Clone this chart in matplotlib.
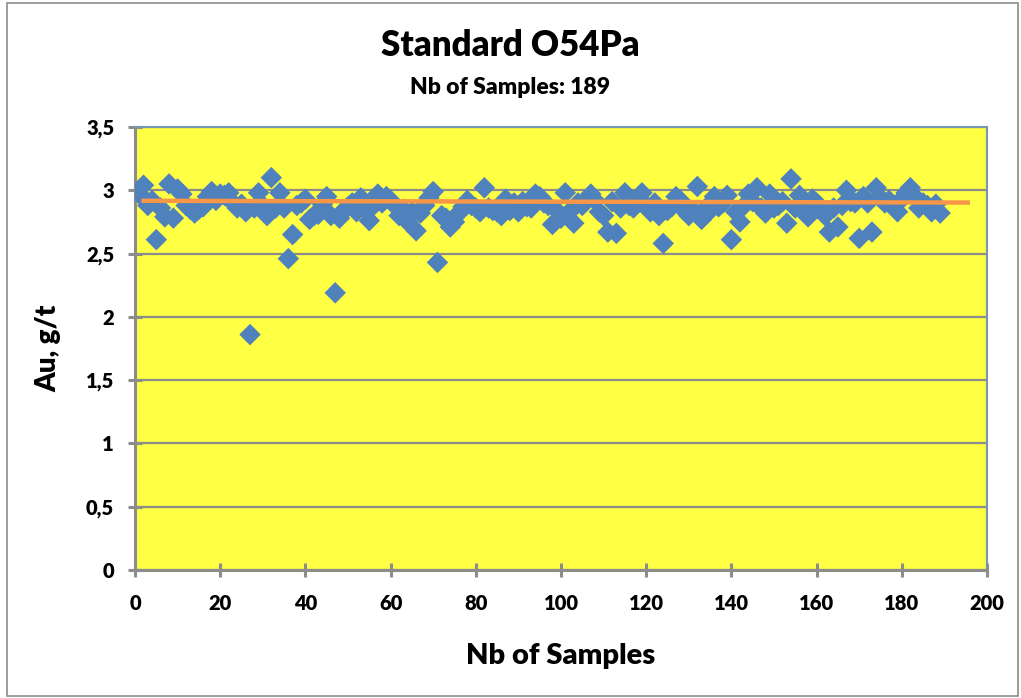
import matplotlib
matplotlib.use("Agg")
import matplotlib.pyplot as plt
from matplotlib.patches import Rectangle
from matplotlib.ticker import FuncFormatter

title = "Standard O54Pa"
subtitle = "Nb of Samples: 189"
x_label = "Nb of Samples"
y_label = "Au, g/t"

au_values = [
    2.97, 3.04, 2.88, 2.92, 2.61, 2.86, 2.79, 3.05, 2.78, 3.01,
    2.97, 2.88, 2.85, 2.82, 2.85, 2.87, 2.95, 2.99, 2.92, 2.97,
    2.96, 2.98, 2.90, 2.86, 2.89, 2.83, 1.86, 2.86, 2.98, 2.88,
    2.80, 3.10, 2.86, 2.98, 2.86, 2.46, 2.65, 2.88, 2.90, 2.93,
    2.77, 2.80, 2.81, 2.89, 2.95, 2.80, 2.19, 2.78, 2.84, 2.87,
    2.90, 2.83, 2.94, 2.85, 2.76, 2.88, 2.97, 2.90, 2.95, 2.92,
    2.88, 2.80, 2.85, 2.75, 2.83, 2.68, 2.82, 2.88, 2.94, 2.99,
    2.43, 2.80, 2.78, 2.71, 2.75, 2.82, 2.87, 2.92, 2.88, 2.86,
    2.83, 3.02, 2.86, 2.84, 2.83, 2.80, 2.93, 2.84, 2.90, 2.83,
    2.91, 2.87, 2.86, 2.97, 2.95, 2.90, 2.88, 2.73, 2.84, 2.78,
    2.98, 2.83, 2.74, 2.90, 2.88, 2.92, 2.97, 2.92, 2.83, 2.80,
    2.67, 2.91, 2.66, 2.86, 2.98, 2.88, 2.86, 2.92, 2.98, 2.88,
    2.83, 2.90, 2.80, 2.58, 2.84, 2.87, 2.95, 2.92, 2.84, 2.80,
    2.84, 3.03, 2.77, 2.86, 2.84, 2.95, 2.87, 2.90, 2.96, 2.61,
    2.83, 2.75, 2.88, 2.97, 2.91, 3.02, 2.86, 2.82, 2.97, 2.86,
    2.88, 2.91, 2.74, 3.09, 2.86, 2.96, 2.83, 2.79, 2.93, 2.90,
    2.84, 2.80, 2.67, 2.86, 2.71, 2.88, 3.00, 2.91, 2.90, 2.62,
    2.95, 2.90, 2.67, 3.02, 2.94, 2.90, 2.92, 2.87, 2.83, 2.93,
    2.98, 3.02, 2.95, 2.86, 2.90, 2.88, 2.83, 2.89, 2.82,
]
sample_idx = list(range(1, len(au_values) + 1))

mean_x = [1.5, 196]
mean_y = [2.917, 2.903]

x_ticks = [0, 20, 40, 60, 80, 100, 120, 140, 160, 180, 200]
y_ticks = [0, 0.5, 1, 1.5, 2, 2.5, 3, 3.5]

plt.rcParams['font.family'] = ['Lato', 'DejaVu Sans']

fig = plt.figure(figsize=(10.21, 6.98), dpi=100)
W, H = 1021, 698
ax = fig.add_axes([135 / W, 1 - 570 / H, (987 - 135) / W, (570 - 127) / H])
ax.set_facecolor('#FFFF44')

# outer chart border
fig.patches.append(Rectangle((7 / W, 2 / H), (1018 - 7) / W, (695 - 2) / H,
                             transform=fig.transFigure, fill=False,
                             edgecolor='#8C8C8C', linewidth=1.2))

ax.set_xlim(0, 200)
ax.set_ylim(0, 3.5)
ax.set_xticks(x_ticks)
ax.set_yticks(y_ticks)
ax.yaxis.set_major_formatter(FuncFormatter(lambda v, p: (f"{v:g}").replace('.', ',')))

ax.grid(axis='y', color='#8C8C8C', linewidth=1.6, zorder=1)
ax.set_axisbelow(True)

ax.scatter(sample_idx, au_values, marker='D', s=120, color='#4F81BD',
           edgecolors='none', zorder=3)
ax.plot(mean_x, mean_y, color='#F79646', linewidth=3.2, solid_capstyle='butt', zorder=4)

for side in ['left', 'bottom']:
    ax.spines[side].set_color('#8C8C8C')
    ax.spines[side].set_linewidth(2.2)
for side in ['top', 'right']:
    ax.spines[side].set_color('#7796B0')
    ax.spines[side].set_linewidth(1.5)

ax.tick_params(axis='both', direction='inout', length=10, width=2.2, color='#8C8C8C',
               labelsize=14.5)
ax.tick_params(axis='x', pad=12)
ax.tick_params(axis='y', pad=10)
for lab in ax.get_xticklabels() + ax.get_yticklabels():
    lab.set_fontweight('heavy')

ax.set_xlabel(x_label, fontsize=21, fontweight='heavy', labelpad=22)
ax.set_ylabel(y_label, fontsize=20, fontweight='heavy', labelpad=18)

fig.text(0.5, 1 - 46 / H, title, ha='center', va='center', fontsize=25, fontweight='heavy')
fig.text(0.5, 1 - 87 / H, subtitle, ha='center', va='center', fontsize=16.5, fontweight='heavy')

fig.savefig('out.png', dpi=100)
